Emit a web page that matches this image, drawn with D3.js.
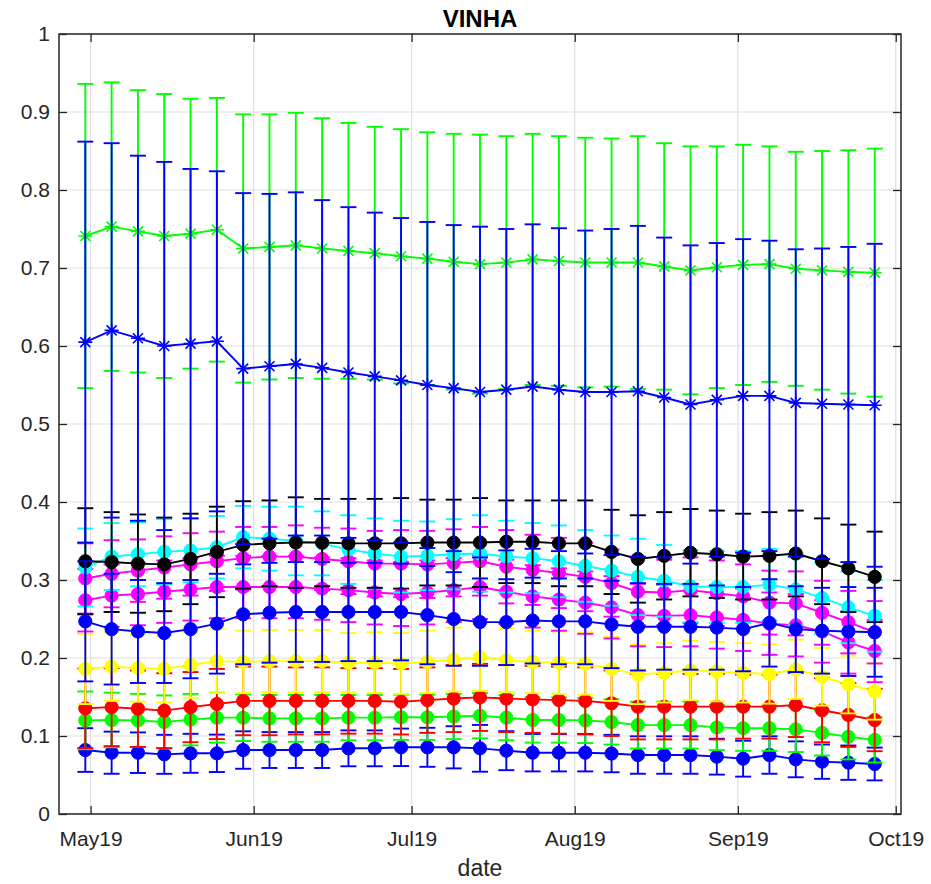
<!DOCTYPE html>
<html>
<head>
<meta charset="utf-8">
<script src="https://cdn.jsdelivr.net/npm/d3@7"></script>
<style>
  html, body { margin: 0; padding: 0; background: #ffffff; }
  svg { display: block; }
  text { font-family: "Liberation Sans", Arial, Helvetica, sans-serif; }
</style>
</head>
<body>
<div id="chart"></div>
<script>
// ---------------- DATA ----------------
const titleText = "VINHA";
const xLabelText = "date";

const dates = [
  "2019-04-30","2019-05-05","2019-05-10","2019-05-15","2019-05-20","2019-05-25","2019-05-30",
  "2019-06-04","2019-06-09","2019-06-14","2019-06-19","2019-06-24","2019-06-29",
  "2019-07-04","2019-07-09","2019-07-14","2019-07-19","2019-07-24","2019-07-29",
  "2019-08-03","2019-08-08","2019-08-13","2019-08-18","2019-08-23","2019-08-28",
  "2019-09-02","2019-09-07","2019-09-12","2019-09-17","2019-09-22","2019-09-27"
];

const xTickDates  = ["2019-05-01","2019-06-01","2019-07-01","2019-08-01","2019-09-01","2019-10-01"];
const xTickLabels = ["May19","Jun19","Jul19","Aug19","Sep19","Oct19"];
const xDomain = ["2019-04-25","2019-10-02"];

const yTicks      = [0, 0.1, 0.2, 0.3, 0.4, 0.5, 0.6, 0.7, 0.8, 0.9, 1];
const yTickLabels = ["0","0.1","0.2","0.3","0.4","0.5","0.6","0.7","0.8","0.9","1"];

// green asterisk series
const meanGreenStar = [0.741,0.753,0.747,0.741,0.744,0.749,0.725,0.727,0.729,0.725,0.722,0.719,0.715,0.712,0.708,0.705,0.707,0.711,0.709,0.707,0.707,0.707,0.702,0.697,0.701,0.704,0.705,0.699,0.697,0.695,0.694];
const sdGreenStar   = [0.195,0.185,0.181,0.182,0.173,0.169,0.172,0.170,0.170,0.167,0.164,0.162,0.163,0.162,0.164,0.166,0.162,0.161,0.160,0.160,0.159,0.162,0.158,0.159,0.155,0.154,0.151,0.150,0.153,0.156,0.159];

// blue asterisk series
const meanBlueStar = [0.605,0.620,0.610,0.600,0.603,0.606,0.571,0.574,0.577,0.572,0.566,0.561,0.556,0.550,0.546,0.541,0.544,0.548,0.544,0.541,0.541,0.542,0.534,0.525,0.531,0.536,0.536,0.527,0.526,0.525,0.524];
const sdBlueStar   = [0.257,0.240,0.234,0.236,0.224,0.218,0.225,0.221,0.220,0.215,0.212,0.210,0.208,0.209,0.209,0.212,0.206,0.208,0.207,0.207,0.209,0.212,0.205,0.204,0.201,0.201,0.199,0.197,0.199,0.202,0.207];

// black circles
const meanBlack = [0.324,0.323,0.321,0.320,0.327,0.336,0.345,0.347,0.348,0.348,0.347,0.347,0.347,0.348,0.348,0.348,0.349,0.349,0.347,0.347,0.336,0.327,0.331,0.335,0.333,0.330,0.331,0.334,0.324,0.315,0.304];
const sdBlack   = [0.068,0.064,0.063,0.060,0.058,0.058,0.056,0.055,0.058,0.056,0.057,0.057,0.058,0.055,0.055,0.057,0.053,0.053,0.055,0.055,0.054,0.056,0.056,0.056,0.056,0.055,0.056,0.055,0.055,0.056,0.058];

// cyan circles
const meanCyan = [0.316,0.330,0.333,0.336,0.338,0.342,0.355,0.353,0.350,0.347,0.339,0.334,0.330,0.331,0.333,0.334,0.330,0.328,0.324,0.318,0.312,0.304,0.299,0.292,0.291,0.291,0.294,0.288,0.277,0.265,0.254];
const sdCyan   = [0.050,0.043,0.041,0.042,0.041,0.040,0.040,0.041,0.044,0.041,0.044,0.045,0.046,0.044,0.045,0.049,0.046,0.045,0.046,0.046,0.045,0.049,0.046,0.046,0.046,0.046,0.046,0.046,0.046,0.046,0.046];

// magenta circles (upper)
const meanMagentaA = [0.302,0.308,0.312,0.316,0.320,0.324,0.328,0.330,0.330,0.327,0.324,0.321,0.321,0.320,0.322,0.324,0.317,0.313,0.309,0.304,0.296,0.285,0.284,0.287,0.283,0.279,0.271,0.270,0.258,0.246,0.233];
const sdMagentaA   = [0.045,0.043,0.040,0.040,0.040,0.038,0.040,0.038,0.040,0.040,0.042,0.042,0.043,0.043,0.043,0.044,0.047,0.045,0.045,0.044,0.043,0.043,0.042,0.042,0.042,0.041,0.041,0.041,0.041,0.040,0.040];

// magenta circles (lower)
const meanMagentaB = [0.274,0.280,0.282,0.285,0.288,0.291,0.291,0.291,0.291,0.289,0.287,0.284,0.282,0.284,0.287,0.291,0.285,0.279,0.275,0.271,0.265,0.255,0.254,0.255,0.252,0.249,0.244,0.242,0.234,0.220,0.209];
const sdMagentaB   = [0.040,0.040,0.040,0.040,0.040,0.040,0.040,0.040,0.040,0.040,0.041,0.041,0.041,0.041,0.041,0.041,0.041,0.040,0.040,0.040,0.040,0.040,0.040,0.040,0.040,0.040,0.040,0.040,0.040,0.040,0.040];

// blue circles (middle)
const meanBlueMid = [0.247,0.237,0.234,0.232,0.237,0.244,0.256,0.258,0.259,0.259,0.259,0.259,0.259,0.255,0.250,0.246,0.246,0.248,0.247,0.247,0.243,0.240,0.240,0.240,0.239,0.237,0.245,0.237,0.235,0.234,0.233];
const sdBlueMid   = [0.077,0.071,0.066,0.064,0.063,0.064,0.064,0.064,0.064,0.064,0.063,0.063,0.062,0.063,0.060,0.056,0.055,0.055,0.055,0.055,0.056,0.056,0.055,0.055,0.054,0.054,0.056,0.055,0.055,0.057,0.057];

// yellow circles
const meanYellow = [0.186,0.189,0.187,0.186,0.191,0.196,0.195,0.196,0.196,0.196,0.194,0.194,0.193,0.195,0.198,0.201,0.197,0.195,0.194,0.193,0.186,0.179,0.181,0.184,0.1825,0.181,0.1795,0.1855,0.176,0.166,0.157];
const sdYellow   = [0.045,0.044,0.043,0.043,0.042,0.041,0.040,0.040,0.040,0.040,0.038,0.039,0.039,0.040,0.041,0.043,0.041,0.040,0.040,0.040,0.041,0.038,0.038,0.038,0.038,0.038,0.038,0.038,0.037,0.037,0.036];

// red circles
const meanRed = [0.1355,0.137,0.135,0.1325,0.137,0.141,0.145,0.145,0.145,0.145,0.145,0.145,0.144,0.146,0.148,0.1495,0.148,0.147,0.146,0.145,0.142,0.1376,0.1376,0.1376,0.1376,0.1376,0.1376,0.1397,0.133,0.127,0.1205];
const sdRed   = [0.051,0.050,0.049,0.048,0.045,0.045,0.044,0.044,0.043,0.043,0.042,0.042,0.042,0.042,0.043,0.043,0.043,0.043,0.043,0.043,0.042,0.042,0.042,0.042,0.042,0.041,0.041,0.041,0.041,0.041,0.040];

// green circles
const meanGreen = [0.120,0.1205,0.120,0.118,0.121,0.1235,0.1235,0.1226,0.1226,0.1226,0.1235,0.1235,0.124,0.124,0.125,0.126,0.1235,0.1205,0.1205,0.120,0.118,0.114,0.114,0.114,0.111,0.110,0.110,0.1085,0.104,0.099,0.095];
const sdGreen   = [0.037,0.035,0.034,0.034,0.033,0.032,0.030,0.030,0.030,0.030,0.029,0.029,0.029,0.029,0.029,0.029,0.029,0.029,0.029,0.029,0.029,0.030,0.030,0.030,0.029,0.029,0.029,0.029,0.029,0.029,0.029];

// blue circles (bottom)
const meanBlueLow = [0.082,0.0786,0.0786,0.0765,0.0778,0.0778,0.082,0.082,0.082,0.082,0.0842,0.0842,0.0855,0.0855,0.0855,0.0842,0.0812,0.0786,0.0786,0.0786,0.0775,0.0756,0.0756,0.0756,0.0735,0.0709,0.0756,0.0701,0.0671,0.0658,0.0641];
const sdBlueLow   = [0.028,0.027,0.026,0.025,0.025,0.024,0.024,0.023,0.023,0.023,0.023,0.023,0.024,0.025,0.027,0.030,0.025,0.024,0.024,0.024,0.024,0.024,0.024,0.024,0.023,0.023,0.024,0.023,0.022,0.022,0.021];

// drawing order (first drawn = bottom)
const seriesList = [
  { name: "blueLow",   mean: meanBlueLow,   sd: sdBlueLow,   color: "#0000ff", marker: "circle" },
  { name: "green",     mean: meanGreen,     sd: sdGreen,     color: "#00ff00", marker: "circle" },
  { name: "red",       mean: meanRed,       sd: sdRed,       color: "#ff0000", marker: "circle" },
  { name: "yellow",    mean: meanYellow,    sd: sdYellow,    color: "#ffff00", marker: "circle" },
  { name: "magentaB",  mean: meanMagentaB,  sd: sdMagentaB,  color: "#ff00ff", marker: "circle" },
  { name: "magentaA",  mean: meanMagentaA,  sd: sdMagentaA,  color: "#ff00ff", marker: "circle" },
  { name: "cyan",      mean: meanCyan,      sd: sdCyan,      color: "#00ffff", marker: "circle" },
  { name: "black",     mean: meanBlack,     sd: sdBlack,     color: "#000000", marker: "circle" },
  { name: "blueMid",   mean: meanBlueMid,   sd: sdBlueMid,   color: "#0000ff", marker: "circle" },
  { name: "greenStar", mean: meanGreenStar, sd: sdGreenStar, color: "#00ff00", marker: "star" },
  { name: "blueStar",  mean: meanBlueStar,  sd: sdBlueStar,  color: "#0000ff", marker: "star" }
];

// ---------------- CHART ----------------
const W = 931, H = 884;
const M = { left: 59, right: 901, top: 34, bottom: 814 };
const parse = d3.timeParse("%Y-%m-%d");
const xDates = dates.map(parse);

const svg = d3.select("#chart").append("svg")
  .attr("width", W).attr("height", H)
  .attr("viewBox", `0 0 ${W} ${H}`);

svg.append("rect").attr("width", W).attr("height", H).attr("fill", "#ffffff");

const x = d3.scaleTime().domain(xDomain.map(parse)).range([M.left, M.right]);
const y = d3.scaleLinear().domain([0, 1]).range([M.bottom, M.top]);

const axisColor = "#262626";
const gridColor = "#dfdfdf";

// grid
const grid = svg.append("g");
grid.selectAll("line.gy").data(yTicks).join("line")
  .attr("x1", M.left).attr("x2", M.right)
  .attr("y1", d => y(d)).attr("y2", d => y(d))
  .attr("stroke", gridColor).attr("stroke-width", 1.2);
grid.selectAll("line.gx").data(xTickDates.map(parse)).join("line")
  .attr("x1", d => x(d)).attr("x2", d => x(d))
  .attr("y1", M.top).attr("y2", M.bottom)
  .attr("stroke", gridColor).attr("stroke-width", 1.2);

// series
const capHalf = 8;
const plot = svg.append("g");
seriesList.forEach(s => {
  const g = plot.append("g").attr("class", "series-" + s.name);
  const pts = s.mean.map((m, i) => ({ d: xDates[i], m: m, e: s.sd[i] }));

  // error bars
  const eb = g.append("g").attr("stroke", s.color).attr("stroke-width", 1.9).attr("fill", "none");
  eb.selectAll("line.v").data(pts).join("line")
    .attr("x1", p => x(p.d)).attr("x2", p => x(p.d))
    .attr("y1", p => y(p.m - p.e)).attr("y2", p => y(p.m + p.e));
  eb.selectAll("line.top").data(pts).join("line")
    .attr("x1", p => x(p.d) - capHalf).attr("x2", p => x(p.d) + capHalf)
    .attr("y1", p => y(p.m + p.e)).attr("y2", p => y(p.m + p.e));
  eb.selectAll("line.bot").data(pts).join("line")
    .attr("x1", p => x(p.d) - capHalf).attr("x2", p => x(p.d) + capHalf)
    .attr("y1", p => y(p.m - p.e)).attr("y2", p => y(p.m - p.e));

  // connecting line
  g.append("path").datum(pts)
    .attr("fill", "none").attr("stroke", s.color).attr("stroke-width", 1.9)
    .attr("d", d3.line().x(p => x(p.d)).y(p => y(p.m)));

  // markers
  if (s.marker === "circle") {
    g.selectAll("circle").data(pts).join("circle")
      .attr("cx", p => x(p.d)).attr("cy", p => y(p.m)).attr("r", 6.6)
      .attr("fill", s.color).attr("stroke", s.color).attr("stroke-width", 1);
  } else {
    const r = 7, rd = 5;
    g.selectAll("path.star").data(pts).join("path")
      .attr("class", "star")
      .attr("fill", "none").attr("stroke", s.color).attr("stroke-width", 1.6)
      .attr("d", p => {
        const cx = x(p.d), cy = y(p.m);
        return `M${cx - r},${cy}L${cx + r},${cy}M${cx},${cy - r}L${cx},${cy + r}` +
               `M${cx - rd},${cy - rd}L${cx + rd},${cy + rd}M${cx - rd},${cy + rd}L${cx + rd},${cy - rd}`;
      });
  }
});

// axes (MATLAB-style: box, ticks inside)
const fontSize = 21;
const xTickVals = xTickDates.map(parse);

const axB = svg.append("g").attr("transform", `translate(0,${M.bottom})`)
  .call(d3.axisBottom(x).tickValues(xTickVals)
        .tickFormat((d, i) => xTickLabels[i]).tickSize(-8).tickPadding(17));
const axT = svg.append("g").attr("transform", `translate(0,${M.top})`)
  .call(d3.axisTop(x).tickValues(xTickVals).tickFormat("").tickSize(-8));
const axL = svg.append("g").attr("transform", `translate(${M.left},0)`)
  .call(d3.axisLeft(y).tickValues(yTicks)
        .tickFormat((d, i) => yTickLabels[i]).tickSize(-8).tickPadding(9));
const axR = svg.append("g").attr("transform", `translate(${M.right},0)`)
  .call(d3.axisRight(y).tickValues(yTicks).tickFormat("").tickSize(-8));

[axB, axT, axL, axR].forEach(a => {
  a.select(".domain").remove();
  a.selectAll(".tick line").attr("stroke", axisColor).attr("stroke-width", 1.3);
  a.selectAll(".tick text").attr("fill", axisColor)
    .style("font-size", fontSize + "px")
    .style("font-family", '"Liberation Sans", Arial, Helvetica, sans-serif');
});

svg.append("rect")
  .attr("x", M.left).attr("y", M.top)
  .attr("width", M.right - M.left).attr("height", M.bottom - M.top)
  .attr("fill", "none").attr("stroke", axisColor).attr("stroke-width", 1.5);

// title & label
svg.append("text").attr("x", (M.left + M.right) / 2).attr("y", 27)
  .attr("text-anchor", "middle").attr("fill", "#000000")
  .style("font-size", "24px").style("font-weight", "bold")
  .text(titleText);

svg.append("text").attr("x", (M.left + M.right) / 2).attr("y", 876)
  .attr("text-anchor", "middle").attr("fill", axisColor)
  .style("font-size", "23px")
  .text(xLabelText);
</script>
</body>
</html>
